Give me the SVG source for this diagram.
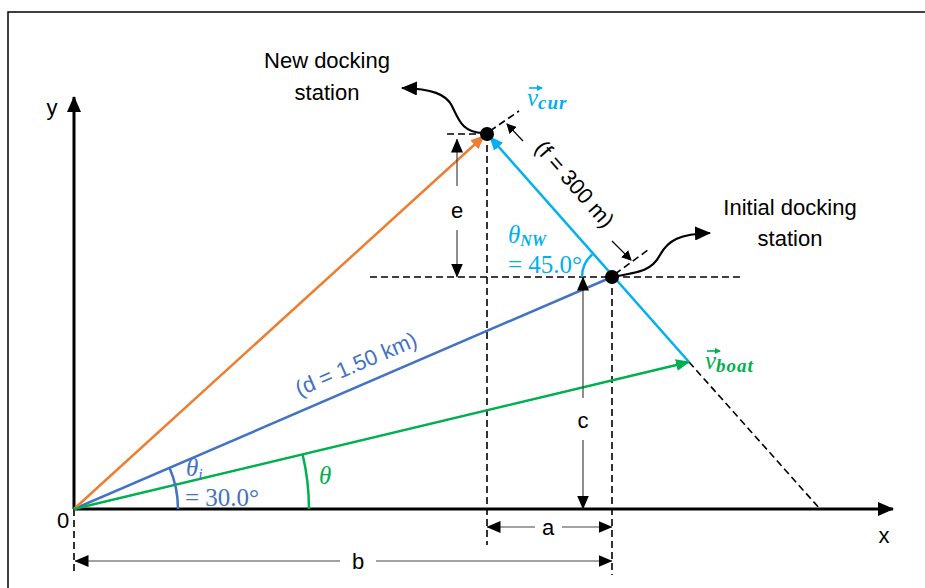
<svg xmlns="http://www.w3.org/2000/svg" width="925" height="588" viewBox="0 0 925 588">
<style>
.lbl{font-family:"Liberation Sans",Arial,sans-serif;font-size:22px;fill:#000}
.dash{stroke:#000;stroke-width:1.6;stroke-dasharray:7,4;fill:none}
.dim{stroke:#444;stroke-width:1.2;fill:none}
.math{font-family:"Liberation Serif","DejaVu Serif",serif;font-size:25px}
.axis{stroke:#000;stroke-width:3;fill:none}
</style>
<defs>
<marker id="ahK" markerWidth="10" markerHeight="10" refX="9" refY="5" orient="auto" markerUnits="userSpaceOnUse" viewBox="0 0 10 10"><path d="M0,0 L10,5 L0,10 Z" fill="#000"/></marker>
<marker id="axK" markerWidth="16" markerHeight="14" refX="15" refY="7" orient="auto" markerUnits="userSpaceOnUse" viewBox="0 0 16 14"><path d="M0,0 L16,7 L0,14 Z" fill="#000"/></marker>
<marker id="dimK" markerWidth="14" markerHeight="12" refX="13.5" refY="6" orient="auto" markerUnits="userSpaceOnUse" viewBox="0 0 14 12"><path d="M0,0 L14,6 L0,12 Z" fill="#000"/></marker>
<marker id="ahO" markerWidth="14" markerHeight="12" refX="13" refY="6" orient="auto" markerUnits="userSpaceOnUse" viewBox="0 0 14 12"><path d="M0,0 L14,6 L0,12 Z" fill="#ED7D31"/></marker>
<marker id="ahC" markerWidth="14" markerHeight="12" refX="13" refY="6" orient="auto" markerUnits="userSpaceOnUse" viewBox="0 0 14 12"><path d="M0,0 L14,6 L0,12 Z" fill="#00B0F0"/></marker>
<marker id="ahG" markerWidth="14" markerHeight="12" refX="13" refY="6" orient="auto" markerUnits="userSpaceOnUse" viewBox="0 0 14 12"><path d="M0,0 L14,6 L0,12 Z" fill="#00B050"/></marker>
<marker id="vC" markerWidth="6" markerHeight="6" refX="5" refY="3" orient="auto" markerUnits="userSpaceOnUse" viewBox="0 0 6 6"><path d="M0,0 L6,3 L0,6 Z" fill="#00B0F0"/></marker>
<marker id="vG" markerWidth="6" markerHeight="6" refX="5" refY="3" orient="auto" markerUnits="userSpaceOnUse" viewBox="0 0 6 6"><path d="M0,0 L6,3 L0,6 Z" fill="#00B050"/></marker>
<marker id="crvK" markerWidth="16" markerHeight="14" refX="15" refY="7" orient="auto" markerUnits="userSpaceOnUse" viewBox="0 0 16 14"><path d="M0,0 L16,7 L0,14 Z" fill="#000"/></marker>
</defs>
<rect x="0" y="0" width="925" height="588" fill="#fff"/>
<rect x="8" y="12" width="930" height="600" fill="none" stroke="#000" stroke-width="1.5"/>

<g id="connectors">
  <line class="dash" x1="370" y1="277" x2="740" y2="277"/>
  <line class="dash" x1="447" y1="134" x2="487" y2="134"/>
  <line class="dash" x1="487" y1="134" x2="487" y2="545"/>
  <line class="dash" x1="612" y1="277" x2="612" y2="575"/>
  <line class="dash" x1="74" y1="509" x2="74" y2="572"/>
  <line class="dash" x1="689" y1="362" x2="820" y2="509"/>
  <line class="dash" x1="490" y1="131" x2="519" y2="111"/>
  <line class="dash" x1="615" y1="274" x2="648" y2="250"/>
  <line x1="523" y1="141" x2="507" y2="124" stroke="#000" stroke-width="1.2" marker-end="url(#ahK)"/>
  <line x1="612" y1="241" x2="631" y2="260" stroke="#000" stroke-width="1.2" marker-end="url(#ahK)"/>
  <line class="axis" x1="74" y1="509" x2="74" y2="97" marker-end="url(#axK)"/>
  <line class="axis" x1="74" y1="509" x2="893" y2="509" marker-end="url(#axK)"/>
  <line x1="74" y1="509" x2="612" y2="277" stroke="#4472C4" stroke-width="2.5"/>
  <line x1="74" y1="509" x2="484" y2="136" stroke="#ED7D31" stroke-width="2.5" marker-end="url(#ahO)"/>
  <line x1="689" y1="362" x2="490" y2="137" stroke="#00B0F0" stroke-width="2.5" marker-end="url(#ahC)"/>
  <line x1="74" y1="509" x2="689" y2="362" stroke="#00B050" stroke-width="2.5" marker-end="url(#ahG)"/>
  <path d="M178,509 A104,104 0 0 0 169.5,467.8" fill="none" stroke="#4472C4" stroke-width="2.5"/>
  <path d="M309,509 A235,235 0 0 0 302.6,454.5" fill="none" stroke="#00B050" stroke-width="2.5"/>
  <path d="M582,277 A30,30 0 0 1 592.3,254.4" fill="none" stroke="#00B0F0" stroke-width="2.5"/>
  <line class="dim" x1="457" y1="186" x2="457" y2="139" marker-end="url(#dimK)"/>
  <line class="dim" x1="457" y1="230" x2="457" y2="277" marker-end="url(#dimK)"/>
  <line class="dim" x1="583" y1="398" x2="583" y2="277" marker-end="url(#dimK)"/>
  <line class="dim" x1="583" y1="440" x2="583" y2="509" marker-end="url(#dimK)"/>
  <line class="dim" x1="535" y1="527" x2="487" y2="527" marker-end="url(#dimK)"/>
  <line class="dim" x1="562" y1="527" x2="612" y2="527" marker-end="url(#dimK)"/>
  <line class="dim" x1="340" y1="561" x2="75" y2="561" marker-end="url(#dimK)"/>
  <line class="dim" x1="376" y1="561" x2="612" y2="561" marker-end="url(#dimK)"/>
  <path d="M485,133 C462,134 458,118 452,106 C446,94 432,89 402,88" fill="none" stroke="#000" stroke-width="2.2" marker-end="url(#crvK)"/>
  <path d="M612,277 C642,272 652,270 660,255 C668,240 680,234 710,233" fill="none" stroke="#000" stroke-width="2.2" marker-end="url(#crvK)"/>
</g>

<g id="node-new-docking">
  <circle cx="487" cy="134" r="7" fill="#000"/>
  <text class="lbl" x="327" y="68" text-anchor="middle">New docking</text>
  <text class="lbl" x="327" y="100" text-anchor="middle">station</text>
</g>
<g id="node-initial-docking">
  <circle cx="612" cy="277" r="7" fill="#000"/>
  <text class="lbl" x="790" y="215" text-anchor="middle">Initial docking</text>
  <text class="lbl" x="790" y="246" text-anchor="middle">station</text>
</g>

<g id="labels">
  <text class="lbl" x="52" y="115" text-anchor="middle">y</text>
  <text class="lbl" x="884" y="543" text-anchor="middle">x</text>
  <text class="lbl" x="63" y="528" text-anchor="middle">0</text>
  <text class="lbl" x="457" y="218" text-anchor="middle">e</text>
  <text class="lbl" x="583" y="428" text-anchor="middle">c</text>
  <text class="lbl" x="548" y="535" text-anchor="middle">a</text>
  <text class="lbl" x="358" y="569" text-anchor="middle">b</text>
  <text class="lbl" x="0" y="0" text-anchor="middle" font-size="20.5" transform="translate(569,189) rotate(48.8)">(f = 300 m)</text>
  <text class="lbl" x="0" y="0" text-anchor="middle" font-size="20.5" style="fill:#4472C4" transform="translate(359,371) rotate(-23.3)">(d = 1.50 km)</text>
  <line x1="529" y1="88" x2="542" y2="88" stroke="#00B0F0" stroke-width="1.6" marker-end="url(#vC)"/>
  <text class="math" x="527" y="106" fill="#00B0F0" font-style="italic">v<tspan font-size="19" dy="3" font-weight="bold" letter-spacing="1">cur</tspan></text>
  <line x1="707" y1="351" x2="720" y2="351" stroke="#00B050" stroke-width="1.6" marker-end="url(#vG)"/>
  <text class="math" x="705" y="369" fill="#00B050" font-style="italic">v<tspan font-size="19" dy="3" font-weight="bold" letter-spacing="1">boat</tspan></text>
  <text class="math" x="508" y="243" fill="#00B0F0" font-style="italic">θ<tspan font-size="16" dy="3" font-weight="bold">NW</tspan></text>
  <text class="math" x="508" y="273" fill="#00B0F0">= 45.0°</text>
  <text class="math" x="186" y="476" fill="#4472C4" font-style="italic">θ<tspan font-size="16" dy="4">i</tspan></text>
  <text class="math" x="185" y="506" fill="#4472C4" font-size="26">= 30.0°</text>
  <text class="math" x="319" y="484" fill="#00B050" font-style="italic">θ</text>
</g>
</svg>
